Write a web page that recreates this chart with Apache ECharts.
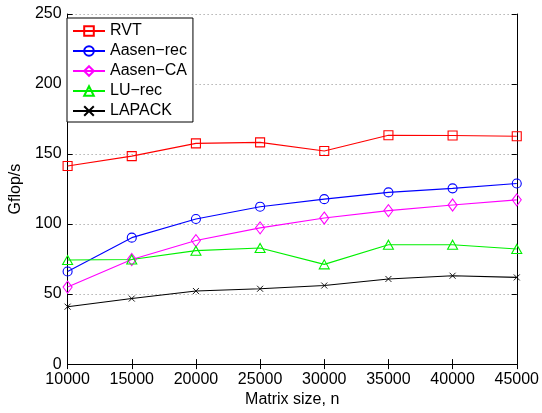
<!DOCTYPE html>
<html>
<head>
<meta charset="utf-8">
<script src="https://cdn.jsdelivr.net/npm/echarts@6/dist/echarts.min.js"></script>
<style>
  html, body { margin: 0; padding: 0; background: #fff; }
  #chart { width: 542px; height: 413px; }
</style>
</head>
<body>
<div id="chart"></div>
<script>
// Matrix sizes (x axis)
const matrixSizes = [10000, 15000, 20000, 25000, 30000, 35000, 40000, 45000];

// Performance in Gflop/s for each factorization
const rvt      = [141.5, 148.5, 157.6, 158.3, 152.2, 163.4, 163.2, 162.7];
const aasenRec = [66.1, 90.3, 103.6, 112.4, 117.8, 122.6, 125.5, 129.0];
const aasenCA  = [55.0, 74.7, 88.2, 97.3, 104.3, 109.6, 113.6, 117.3];
const luRec    = [74.3, 74.7, 81.0, 82.9, 71.2, 85.2, 85.2, 82.2];
const lapack   = [41.0, 46.8, 52.2, 53.8, 56.1, 60.8, 63.1, 61.9];

const seriesNames = ['RVT', 'Aasen\u2212rec', 'Aasen\u2212CA', 'LU\u2212rec', 'LAPACK'];

// Axis ranges
const xMin = 10000, xMax = 45000, xStep = 5000;
const yMin = 0, yMax = 250, yStep = 50;

const FONT = '"Liberation Sans", Helvetica, Arial, sans-serif';
const crossPath = 'path://M0,0L10,10M10,0L0,10';

function pairs(values) {
  return matrixSizes.map((x, i) => [x, values[i]]);
}

function lineSeries(name, values, color, symbol, size) {
  return {
    name: name,
    type: 'line',
    data: pairs(values),
    symbol: symbol,
    symbolSize: size,
    showSymbol: true,
    animation: false,
    lineStyle: { color: color, width: 1.1 },
    itemStyle: { color: 'rgba(0,0,0,0)', borderColor: color, borderWidth: 1.1 },
    emphasis: { disabled: true }
  };
}

const chart = echarts.init(document.getElementById('chart'), null, { renderer: 'canvas' });

const tickInside = { show: true, inside: true, length: 5, lineStyle: { color: '#000', width: 1 } };
const blackLine = { show: true, lineStyle: { color: '#000', width: 1 } };

chart.setOption({
  backgroundColor: '#fff',
  animation: false,
  textStyle: { fontFamily: FONT },
  grid: { left: 61, right: 25, top: 14, bottom: 41, containLabel: false },
  legend: {
    left: 67,
    top: 18,
    orient: 'vertical',
    data: seriesNames,
    itemWidth: 32,
    itemHeight: 12,
    itemGap: 0,
    padding: [3, 6, 1, 5],
    backgroundColor: '#fff',
    borderColor: '#000',
    borderWidth: 1,
    borderRadius: 0,
    textStyle: { fontFamily: FONT, fontSize: 16, color: '#000', lineHeight: 20 },
    selectedMode: false
  },
  xAxis: [
    {
      type: 'value',
      min: xMin, max: xMax, interval: xStep,
      name: 'Matrix size, n',
      nameLocation: 'middle',
      nameGap: 24,
      nameTextStyle: { fontFamily: FONT, fontSize: 16, color: '#000', verticalAlign: 'top' },
      axisLine: blackLine,
      axisTick: tickInside,
      axisLabel: { fontFamily: FONT, fontSize: 16, color: '#000', margin: 7, formatter: v => String(v) },
      splitLine: { show: false }
    },
    {
      type: 'value',
      position: 'top',
      min: xMin, max: xMax, interval: xStep,
      axisLine: blackLine,
      axisTick: tickInside,
      axisLabel: { show: false },
      splitLine: { show: false }
    }
  ],
  yAxis: [
    {
      type: 'value',
      min: yMin, max: yMax, interval: yStep,
      name: 'Gflop/s',
      nameLocation: 'middle',
      nameGap: 35,
      nameTextStyle: { fontFamily: FONT, fontSize: 16, color: '#000' },
      axisLine: blackLine,
      axisTick: tickInside,
      axisLabel: { fontFamily: FONT, fontSize: 16, color: '#000', margin: 6 },
      splitLine: { show: true, lineStyle: { color: '#8c8c8c', width: 1, type: [1, 3] } }
    },
    {
      type: 'value',
      position: 'right',
      min: yMin, max: yMax, interval: yStep,
      axisLine: blackLine,
      axisTick: tickInside,
      axisLabel: { show: false },
      splitLine: { show: false }
    }
  ],
  series: [
    lineSeries(seriesNames[0], rvt, '#ff0000', 'rect', 9),
    lineSeries(seriesNames[1], aasenRec, '#0000ff', 'circle', 9),
    lineSeries(seriesNames[2], aasenCA, '#ff00ff', 'diamond', [9, 12]),
    lineSeries(seriesNames[3], luRec, '#00f000', 'triangle', [10, 9]),
    (function () {
      const s = lineSeries(seriesNames[4], lapack, '#000000', crossPath, 6);
      s.itemStyle = { color: '#000', borderColor: '#000', borderWidth: 0.9 };
      return s;
    })()
  ]
});
</script>
</body>
</html>
